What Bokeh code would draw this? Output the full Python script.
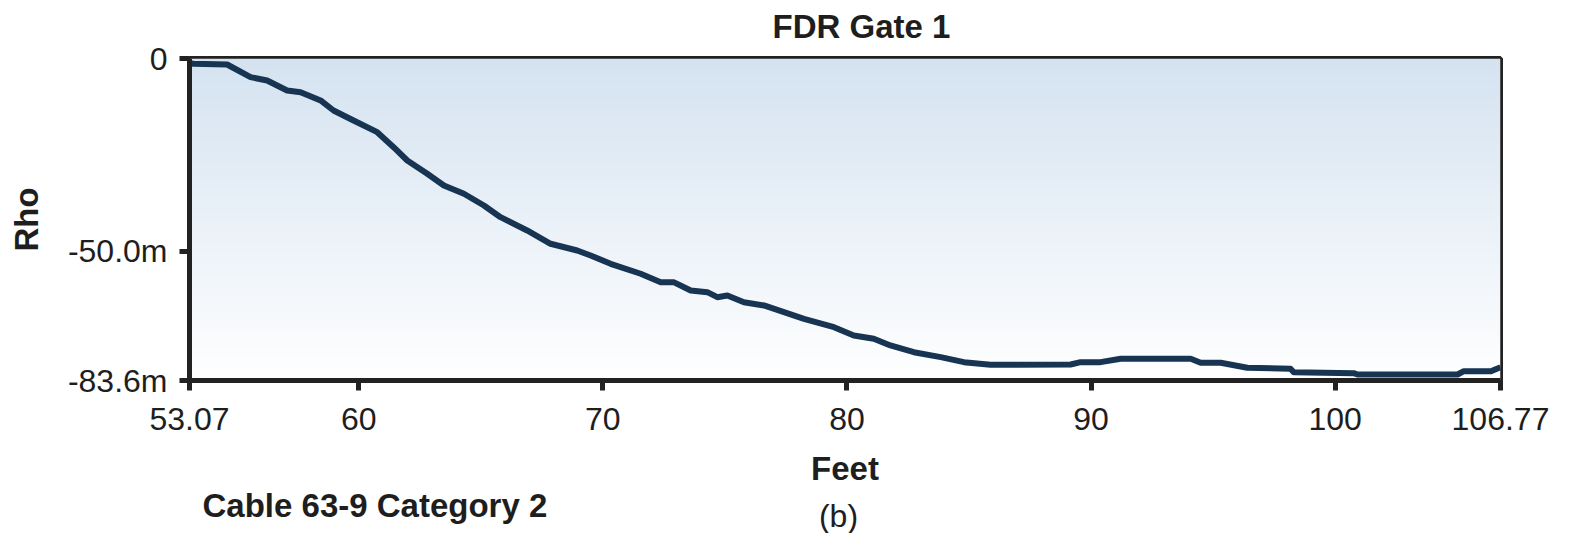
import numpy as np
from bokeh.plotting import figure
from bokeh.layouts import column
from bokeh.models import Range1d, FixedTicker, CustomJSTickFormatter, Label
from bokeh.embed import file_html
from bokeh.resources import INLINE

# Distance along the cable (feet) and reflection coefficient (milli-rho)
feet = [53.07, 53.23, 54.61, 55.57, 56.25, 57.07, 57.62, 58.44, 58.97, 59.79,
        60.76, 61.43, 61.99, 62.81, 63.49, 64.31, 65.13, 65.81, 66.90, 67.86,
        68.95, 69.50, 70.32, 71.55, 72.37, 72.90, 73.60, 74.28, 74.69, 75.10,
        75.78, 76.60, 77.42, 78.24, 79.47, 80.28, 81.10, 81.78, 82.74, 83.84,
        84.79, 85.88, 89.16, 89.57, 90.39, 91.21, 94.08, 94.49, 95.31, 96.40,
        98.17, 98.30, 100.76, 100.91, 105.01, 105.27, 106.38, 106.77]
rho = [-1.2, -1.38, -1.56, -4.85, -5.71, -8.31, -8.75, -10.90, -13.50, -16.10,
       -19.13, -23.03, -26.48, -29.93, -32.97, -35.12, -38.16, -41.20, -44.65, -48.10,
       -49.84, -51.14, -53.30, -55.89, -58.07, -58.07, -60.23, -60.67, -61.97, -61.53,
       -63.27, -64.12, -65.86, -67.58, -69.76, -71.91, -72.77, -74.51, -76.25, -77.54,
       -78.84, -79.52, -79.44, -78.84, -78.84, -77.96, -77.96, -79.00, -79.00, -80.30,
       -80.56, -81.44, -81.70, -82.04, -82.04, -81.18, -81.18, -80.14]

x_ticks = [53.07, 60, 70, 80, 90, 100, 106.77]
y_ticks = [0, -50.0, -83.6]

X_MIN, X_MAX = x_ticks[0], x_ticks[-1]
Y_MIN, Y_MAX = y_ticks[-1], y_ticks[0]

INK = "#1e1e1e"
FONT = "Liberation Sans"
WIDTH = 1571


def text_strip(height):
    """A blank full-width band that only carries text labels."""
    s = figure(width=WIDTH, height=height, x_range=Range1d(0, WIDTH),
               y_range=Range1d(0, height), output_backend="svg",
               toolbar_location=None, title=None,
               x_axis_location=None, y_axis_location=None, min_border=0)
    s.outline_line_color = None
    s.grid.visible = False
    s.background_fill_color = "white"
    s.border_fill_color = "white"
    return s


# title band
head = text_strip(40)
head.add_layout(Label(x=772, y=26, x_units="canvas", y_units="canvas",
                      text="FDR Gate 1", text_font=FONT, text_font_size="33px",
                      text_font_style="bold", text_color=INK,
                      text_baseline="alphabetic", text_align="left"))

# main chart
p = figure(width=WIDTH, height=450, title=None,
           x_range=Range1d(X_MIN, X_MAX), y_range=Range1d(Y_MIN, Y_MAX),
           output_backend="svg", toolbar_location=None,
           min_border_left=189, min_border_right=71,
           min_border_top=18, min_border_bottom=110)
p.background_fill_color = "white"
p.border_fill_color = "white"
p.outline_line_color = "#222222"
p.outline_line_width = 5
p.grid.visible = False

# vertical shading of the plot area: pale blue at the top fading to white
n = 256
t = np.linspace(0.0, 1.0, n)[:, None]          # 0 = bottom row, 1 = top row
top = np.array([213, 227, 241], dtype=float)
bot = np.array([255, 255, 255], dtype=float)
rgb = bot + (top - bot) * t
img = np.empty((n, 1), dtype=np.uint32)
view = img.view(dtype=np.uint8).reshape((n, 1, 4))
view[:, :, 0] = rgb[:, 0:1].astype(np.uint8)
view[:, :, 1] = rgb[:, 1:2].astype(np.uint8)
view[:, :, 2] = rgb[:, 2:3].astype(np.uint8)
view[:, :, 3] = 255
p.image_rgba(image=[img], x=X_MIN, y=Y_MIN, dw=X_MAX - X_MIN, dh=Y_MAX - Y_MIN)

p.line(feet, rho, line_color="#173452", line_width=6, line_join="round")

for ax in (p.xaxis[0], p.yaxis[0]):
    ax.axis_line_color = "#222222"
    ax.axis_line_width = 5
    ax.major_tick_line_color = "#222222"
    ax.major_tick_line_width = 5
    ax.major_tick_out = 10
    ax.major_tick_in = 0
    ax.minor_tick_line_color = None
    ax.major_label_text_font = FONT
    ax.major_label_text_font_size = "32px"
    ax.major_label_text_color = INK
    ax.axis_label_text_font = FONT
    ax.axis_label_text_font_size = "33px"
    ax.axis_label_text_font_style = "bold"
    ax.axis_label_text_color = INK

p.xaxis.ticker = FixedTicker(ticks=x_ticks)
p.xaxis.formatter = CustomJSTickFormatter(
    code="return Number.isInteger(tick) ? tick.toString() : tick.toFixed(2);")
p.xaxis.major_label_standoff = 17
p.xaxis.axis_label = "Feet"
p.xaxis.axis_label_standoff = 17

p.yaxis.ticker = FixedTicker(ticks=y_ticks)
p.yaxis.formatter = CustomJSTickFormatter(
    code="return tick == 0 ? '0' : tick.toFixed(1) + 'm';")
p.yaxis.major_label_standoff = 12
p.yaxis.axis_label = "Rho"
p.yaxis.axis_label_standoff = 20

# caption band under the chart
cap = text_strip(43)
cap.add_layout(Label(x=202, y=15, x_units="canvas", y_units="canvas",
                     text="Cable 63-9 Category 2", text_font=FONT,
                     text_font_size="33px", text_font_style="bold",
                     text_color=INK, text_baseline="alphabetic", text_align="left"))
cap.add_layout(Label(x=838, y=25, x_units="canvas", y_units="canvas",
                     text="(b)", text_font=FONT, text_font_size="32px",
                     text_color=INK, text_baseline="alphabetic", text_align="center"))

open("out.html", "w").write(file_html(column(head, p, cap, spacing=0), INLINE))
